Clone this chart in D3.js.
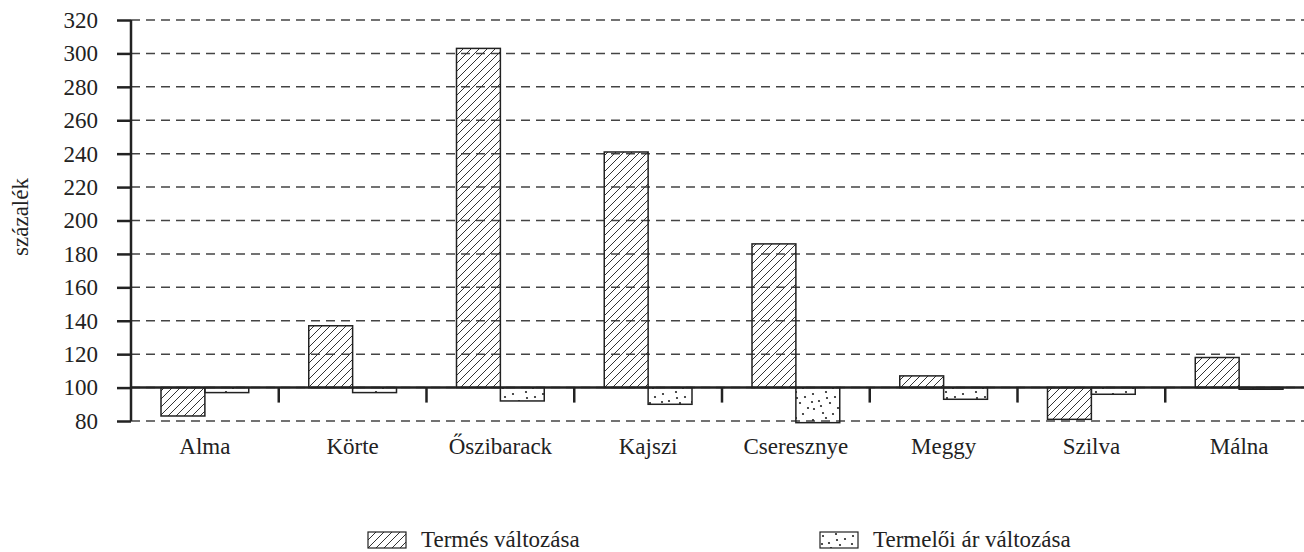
<!DOCTYPE html>
<html>
<head>
<meta charset="utf-8">
<script src="https://cdn.jsdelivr.net/npm/d3@7"></script>
<style>
  body { margin: 0; background: #fff; }
  text { font-family: "Liberation Serif", "Times New Roman", serif; fill: #222; }
</style>
</head>
<body>
<div id="chart"></div>
<script>
// categories and series (values in percent, 100 = no change)
var categories = ["Alma", "Körte", "Őszibarack", "Kajszi", "Cseresznye", "Meggy", "Szilva", "Málna"];
var seriesNames = ["Termés változása", "Termelői ár változása"];
var termes = [83, 137, 303, 241, 186, 107, 81, 118];
var arValt = [97, 97, 92, 90, 79, 93, 96, 99];
var yTicks = [80, 100, 120, 140, 160, 180, 200, 220, 240, 260, 280, 300, 320];

var width = 1304, height = 552;
var margin = {top: 20, right: -9, bottom: 131, left: 131};
var fontSize = "23px";

var svg = d3.select("#chart")
  .append("svg")
  .attr("width", width)
  .attr("height", height);

// patterns
var defs = svg.append("defs");
var hatch = defs.append("pattern")
  .attr("id", "hatch")
  .attr("patternUnits", "userSpaceOnUse")
  .attr("width", 8).attr("height", 8);
hatch.append("path")
  .attr("d", "M-2,2 L2,-2 M0,8 L8,0 M6,10 L10,6")
  .attr("stroke", "#333")
  .attr("stroke-width", 1);

var dotsPat = defs.append("pattern")
  .attr("id", "dots")
  .attr("patternUnits", "userSpaceOnUse")
  .attr("width", 30).attr("height", 26);
var dotPos = [[3, 4], [16, 2], [25, 7], [9, 11], [20, 13], [28, 18], [4, 19], [13, 23], [23, 24], [11, 16], [17, 8], [2, 12]];
dotsPat.selectAll("circle")
  .data(dotPos)
  .enter()
  .append("circle")
  .attr("cx", function(d) { return d[0]; })
  .attr("cy", function(d) { return d[1]; })
  .attr("r", 1.1)
  .attr("fill", "#222");

var x = d3.scaleBand()
  .domain(categories)
  .range([margin.left, width - margin.right]);

var x1 = d3.scaleBand()
  .domain(seriesNames)
  .range([30, x.bandwidth() - 30]);

var y = d3.scaleLinear()
  .domain([80, 320])
  .range([height - margin.bottom, margin.top]);

// dashed gridlines
svg.append("g")
  .selectAll("line")
  .data(yTicks)
  .enter()
  .append("line")
  .attr("x1", margin.left)
  .attr("x2", width)
  .attr("y1", function(d) { return y(d); })
  .attr("y2", function(d) { return y(d); })
  .attr("stroke", "#444")
  .attr("stroke-width", 1.5)
  .attr("stroke-dasharray", "9,6");

// bars
var rows = categories.map(function(c, i) {
  return [{cat: c, s: seriesNames[0], v: termes[i], fill: "url(#hatch)"},
          {cat: c, s: seriesNames[1], v: arValt[i], fill: "url(#dots)"}];
});
var flat = [].concat.apply([], rows);

svg.append("g")
  .selectAll("rect")
  .data(flat)
  .enter()
  .append("rect")
  .attr("x", function(d) { return x(d.cat) + x1(d.s); })
  .attr("width", x1.bandwidth())
  .attr("y", function(d) { return Math.min(y(d.v), y(100)); })
  .attr("height", function(d) { return Math.abs(y(d.v) - y(100)); })
  .attr("fill", function(d) { return d.fill; })
  .attr("stroke", "#222")
  .attr("stroke-width", 1.5);

// baseline axis at 100
var baseY = y(100);
svg.append("line")
  .attr("x1", margin.left).attr("x2", width)
  .attr("y1", baseY).attr("y2", baseY)
  .attr("stroke", "#222")
  .attr("stroke-width", 2.5);

svg.append("g")
  .selectAll("line")
  .data(categories.slice(1))
  .enter()
  .append("line")
  .attr("x1", function(d) { return x(d); })
  .attr("x2", function(d) { return x(d); })
  .attr("y1", baseY)
  .attr("y2", baseY + 15)
  .attr("stroke", "#222")
  .attr("stroke-width", 2.5);

// category labels
svg.append("g")
  .selectAll("text")
  .data(categories)
  .enter()
  .append("text")
  .attr("x", function(d) { return x(d) + x.bandwidth() / 2; })
  .attr("y", 454)
  .attr("text-anchor", "middle")
  .style("font-size", fontSize)
  .text(function(d) { return d; });

// y axis
var yAxis = d3.axisLeft(y)
  .tickValues(yTicks)
  .tickSize(14)
  .tickPadding(19)
  .tickFormat(d3.format("d"));
var ga = svg.append("g")
  .attr("transform", "translate(" + margin.left + ",0)")
  .call(yAxis);
ga.select(".domain")
  .attr("stroke", "#222")
  .attr("stroke-width", 2.5)
  .attr("d", "M0," + y(320) + "V" + y(80));
ga.selectAll(".tick line").attr("stroke", "#222").attr("stroke-width", 2.5);
ga.selectAll(".tick text")
  .style("font-size", fontSize)
  .style("font-family", "'Liberation Serif', 'Times New Roman', serif")
  .attr("fill", "#222");

svg.append("text")
  .attr("transform", "translate(28,217) rotate(-90)")
  .attr("text-anchor", "middle")
  .style("font-size", fontSize)
  .text("százalék");

// legend
var legendX = [368, 820];
var legend = svg.append("g")
  .selectAll("g")
  .data(seriesNames)
  .enter()
  .append("g")
  .attr("transform", function(d, i) { return "translate(" + legendX[i] + ",532)"; });
legend.append("rect")
  .attr("width", 38).attr("height", 16)
  .attr("fill", function(d, i) { return i === 0 ? "url(#hatch)" : "url(#dots)"; })
  .attr("stroke", "#222")
  .attr("stroke-width", 1.2);
legend.append("text")
  .attr("x", 53)
  .attr("y", 15)
  .style("font-size", fontSize)
  .text(function(d) { return d; });
</script>
</body>
</html>
